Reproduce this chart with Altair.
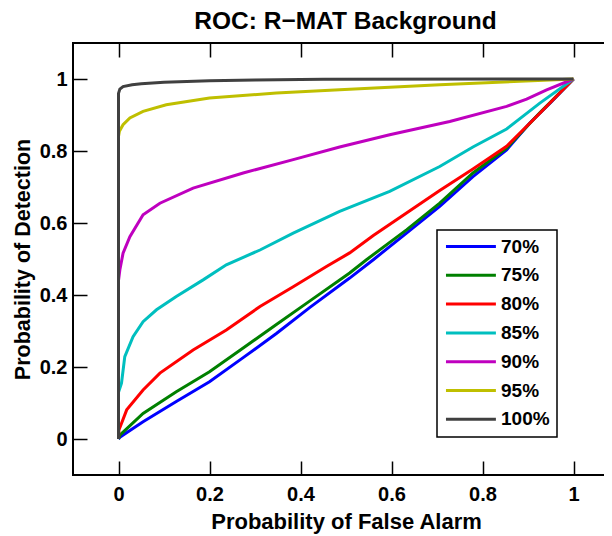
import altair as alt
import pandas as pd

series_labels = ["70%", "75%", "80%", "85%", "90%", "95%", "100%"]
series_colors = ["#0000ff", "#008000", "#ff0000", "#00bfbf", "#bf00bf", "#bfbf00", "#404040"]

fa_70 = [0, 0.003, 0.054, 0.127, 0.2, 0.274, 0.347, 0.42, 0.508, 0.56, 0.633, 0.706, 0.779, 0.853, 0.904, 0.95, 1.0]
pd_70 = [0, 0.005, 0.048, 0.104, 0.159, 0.226, 0.293, 0.365, 0.447, 0.498, 0.572, 0.646, 0.729, 0.803, 0.878, 0.935, 1.0]

fa_75 = [0, 0.003, 0.054, 0.127, 0.2, 0.274, 0.347, 0.42, 0.508, 0.545, 0.633, 0.706, 0.779, 0.853, 0.926, 1.0]
pd_75 = [0, 0.011, 0.071, 0.131, 0.187, 0.253, 0.318, 0.383, 0.461, 0.498, 0.581, 0.655, 0.739, 0.808, 0.906, 1.0]

fa_80 = [0, 0.001, 0.018, 0.054, 0.091, 0.164, 0.237, 0.311, 0.384, 0.457, 0.508, 0.56, 0.633, 0.706, 0.779, 0.853, 0.926, 1.0]
pd_80 = [0, 0.025, 0.081, 0.136, 0.183, 0.247, 0.303, 0.368, 0.423, 0.479, 0.517, 0.565, 0.628, 0.69, 0.75, 0.813, 0.905, 1.0]

fa_85 = [0, 0, 0.0066, 0.0138, 0.032, 0.054, 0.0835, 0.127, 0.186, 0.237, 0.311, 0.384, 0.486, 0.596, 0.706, 0.779, 0.853, 0.926, 1.0]
pd_85 = [0, 0.13, 0.155, 0.229, 0.284, 0.326, 0.359, 0.396, 0.442, 0.484, 0.525, 0.572, 0.632, 0.688, 0.757, 0.811, 0.861, 0.933, 1.0]

fa_90 = [0, 0, 0.003, 0.010, 0.025, 0.054, 0.091, 0.164, 0.274, 0.384, 0.486, 0.596, 0.728, 0.853, 0.897, 0.941, 1.0]
pd_90 = [0, 0.44, 0.47, 0.516, 0.562, 0.623, 0.655, 0.697, 0.739, 0.776, 0.811, 0.845, 0.882, 0.924, 0.944, 0.970, 1.0]

fa_95 = [0, 0, 0.002, 0.010, 0.025, 0.054, 0.105, 0.2, 0.347, 0.486, 0.706, 0.882, 0.962, 1.0]
pd_95 = [0, 0.84, 0.855, 0.873, 0.892, 0.910, 0.9286, 0.947, 0.961, 0.970, 0.984, 0.9935, 0.998, 1.0]

fa_100 = [0, 0, 0.003, 0.01, 0.03, 0.05, 0.1, 0.2, 0.3, 0.45, 1.0]
pd_100 = [0, 0.96, 0.972, 0.979, 0.984, 0.987, 0.991, 0.995, 0.997, 0.999, 1.0]

x_ticks = [0, 0.2, 0.4, 0.6, 0.8, 1]
y_ticks = [0, 0.2, 0.4, 0.6, 0.8, 1]

fa_all = [fa_70, fa_75, fa_80, fa_85, fa_90, fa_95, fa_100]
pd_all = [pd_70, pd_75, pd_80, pd_85, pd_90, pd_95, pd_100]

rows = []
for lab, fa, pdv in zip(series_labels, fa_all, pd_all):
    for i, (a, b) in enumerate(zip(fa, pdv)):
        rows.append({"fa": a, "pd": b, "series": lab, "order": i})
df = pd.DataFrame(rows)

FONT = "Liberation Sans"
W, H = 531, 432
FULL_W = 546  # width of the original axes box, whose right edge lies beyond the picture
x_scale = alt.Scale(domain=[-0.1, -0.1 + 1.2 * W / FULL_W], nice=False, zero=False)
y_scale = alt.Scale(domain=[-0.1, 1.1], nice=False, zero=False)

axis_common = dict(
    offset=-14, tickSize=14, tickWidth=1.5, tickColor="black", domain=False, grid=False,
    labelFont=FONT, labelFontWeight="bold", labelFontSize=20, labelColor="black",
    titleFont=FONT, titleFontWeight="bold", titleColor="black",
    format="~g", labelOverlap=False, labelFlush=False,
)

lines = alt.Chart(df).mark_line(strokeWidth=3).encode(
    x=alt.X("fa:Q", scale=x_scale,
            axis=alt.Axis(orient="bottom", values=x_ticks, labelPadding=9,
                          title="Probability of False Alarm", titlePadding=7,
                          titleX=FULL_W / 2, titleFontSize=22, **axis_common)),
    y=alt.Y("pd:Q", scale=y_scale,
            axis=alt.Axis(orient="left", values=y_ticks, labelPadding=6,
                          title="Probability of Detection", titlePadding=5,
                          titleFontSize=21.5, **axis_common)),
    color=alt.Color("series:N",
                    scale=alt.Scale(domain=series_labels, range=series_colors),
                    legend=alt.Legend(orient="none", legendX=364, legendY=187, title=None,
                                      symbolType="M -0.94 0 L 5.3 0", symbolSize=256,
                                      symbolStrokeWidth=3, labelFont=FONT, labelFontWeight="bold",
                                      labelFontSize=19, labelColor="black", labelOffset=38,
                                      rowPadding=8.8, padding=7, strokeColor="black",
                                      fillColor="white")),
    order="order:Q",
)

frame = alt.Chart(df).mark_point(opacity=0, size=0).encode(
    x=alt.X("fa:Q", scale=x_scale,
            axis=alt.Axis(orient="top", values=x_ticks, labels=False, title=None,
                          titleFontSize=22, **axis_common)),
    y=alt.Y("pd:Q", scale=y_scale, axis=None),
)

chart = alt.layer(lines, frame).resolve_axis(
    x="independent", y="independent"
).properties(
    width=W, height=H,
    padding={"left": 65, "top": 35, "right": 0, "bottom": 61},
    autosize=alt.AutoSizeParams(type="none"),
    title=alt.Title("ROC: R\u2212MAT Background", font=FONT, fontSize=24.5, fontWeight="bold",
                    color="black", offset=16, dy=27, dx=7, baseline="alphabetic"),
).configure_view(
    stroke="black", strokeWidth=2, strokeDash=[W, H, 2 * (W + H), 1]
).configure_legend(
    strokeWidth=1.5
)

chart.save("out.html", embed_options={"renderer": "svg", "actions": False})
